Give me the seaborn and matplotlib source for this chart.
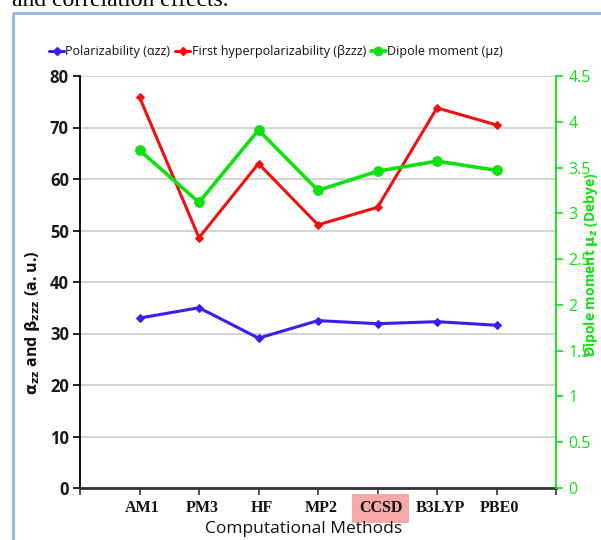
import matplotlib
matplotlib.use("Agg")
import matplotlib.pyplot as plt
from matplotlib.lines import Line2D
import seaborn as sns
import pandas as pd

methods = ["AM1", "PM3", "HF", "MP2", "CCSD", "B3LYP", "PBE0"]
polarizability = [33.0, 35.0, 29.1, 32.5, 31.9, 32.3, 31.6]
hyperpolarizability = [75.9, 48.6, 63.0, 51.1, 54.5, 73.8, 70.5]
dipole = [3.69, 3.12, 3.91, 3.25, 3.46, 3.57, 3.47]

left_ticks = [0, 10, 20, 30, 40, 50, 60, 70, 80]
right_ticks = [0, 0.5, 1, 1.5, 2, 2.5, 3, 3.5, 4, 4.5]
right_tick_labels = ["0", "0.5", "1", "1.5", "2", "2.5", "3", "3.5", "4", "4.5"]

df = pd.DataFrame({"pos": list(range(1, len(methods) + 1)), "method": methods,
                   "alpha": polarizability, "beta": hyperpolarizability, "mu": dipole})

sns.set_theme(style="white")
plt.rcParams['font.family'] = ['Open Sans', 'DejaVu Sans']

BLUE = "#3a1ef0"
RED = "#f01010"
GREEN = "#10e010"

fig = plt.figure(figsize=(6.01, 5.40), dpi=100)
ax = fig.add_axes([80 / 601, 1 - 488 / 540, (556 - 80) / 601, (488 - 76) / 540])
ax2 = ax.twinx()

sns.lineplot(data=df, x="pos", y="alpha", ax=ax, color=BLUE, marker="D", markersize=4,
             markeredgecolor=BLUE, linewidth=2.2)
sns.lineplot(data=df, x="pos", y="beta", ax=ax, color=RED, marker="D", markersize=4,
             markeredgecolor=RED, linewidth=2.2)
sns.lineplot(data=df, x="pos", y="mu", ax=ax2, color=GREEN, marker="o", markersize=7,
             markeredgecolor=GREEN, linewidth=2.6)

ax.set_xlim(0, len(methods) + 1)
ax.set_ylim(0, 80)
ax2.set_ylim(0, 4.5)
ax.set_xticks(range(0, len(methods) + 2))
ax.set_xticklabels([""] * (len(methods) + 2))
ax.set_yticks(left_ticks)
ax.set_yticklabels([str(t) for t in left_ticks], fontsize=12, fontweight="bold",
                   color="#1a1a1a")
ax2.set_yticks(right_ticks)
ax2.set_yticklabels(right_tick_labels, fontsize=11.5, color=GREEN)

ax.yaxis.grid(True, color="#cccccc", linewidth=1.2)
ax.set_axisbelow(True)
for s in ["top", "right"]:
    ax.spines[s].set_visible(False)
for s in ["top", "left", "bottom"]:
    ax2.spines[s].set_visible(False)
ax.spines["left"].set_color("black")
ax.spines["left"].set_linewidth(1.3)
ax.spines["bottom"].set_color("#333333")
ax.spines["bottom"].set_linewidth(2.0)
ax2.spines["right"].set_color(GREEN)
ax2.spines["right"].set_linewidth(1.3)

ax.tick_params(axis="y", which="both", left=True, direction="out", length=5, width=1.2,
               color="black", pad=3)
ax.tick_params(axis="x", bottom=True, direction="out", length=5, width=1.2, color="#333333")
ax2.tick_params(axis="y", right=True, direction="out", length=5, width=1.2, color=GREEN, pad=4)

ax.set_xlabel("")
ax.set_ylabel("")
ax2.set_ylabel("")
fig.text(33 / 601, 1 - 323 / 540, r"$\mathbf{\alpha_{zz}}$ and $\mathbf{\beta_{zzz}}$ (a. u.)",
         fontsize=11.5, fontweight="bold", rotation=90, ha="center", va="center",
         color="#111111")
fig.text(591 / 601, 1 - 265 / 540, r"Dipole moment $\mathbf{\mu_{z}}$ (Debye)",
         fontsize=10, fontweight="bold", color=GREEN, rotation=90, ha="center",
         va="center")

# category labels (Times-like bold)
for i, m in enumerate(methods):
    kw = {}
    if m == "CCSD":
        kw["bbox"] = dict(boxstyle="square,pad=0.4", facecolor="#f7a9a8", edgecolor="none")
    ax.text(i + 1.05, -2.4, m, ha="center", va="top", fontsize=11.5, fontweight="bold",
            family="Liberation Serif", color="#111111", **kw)
fig.text(0.505, 1 - 529 / 540, "Computational Methods", ha="center", va="center",
         fontsize=12.5, color="#111111")

handles = [Line2D([], [], color=BLUE, marker="D", markersize=4, linewidth=2.2),
           Line2D([], [], color=RED, marker="D", markersize=4, linewidth=2.2),
           Line2D([], [], color=GREEN, marker="o", markersize=6, linewidth=2.6)]
labels = ["Polarizability (αzz)", "First hyperpolarizability (βzzz)", "Dipole moment (μz)"]
leg = fig.legend(handles, labels, loc="center", bbox_to_anchor=(276 / 601, 1 - 52 / 540),
                 ncol=3, frameon=False, fontsize=9, handlelength=1.2, handletextpad=0.1,
                 columnspacing=0.4)
for t in leg.get_texts():
    t.set_fontweight("medium")
    t.set_color("#111111")

# surrounding frame and cut-off caption text from the page
fig.add_artist(Line2D([13 / 601, 13 / 601], [0, 1 - 15 / 540], color="#8fb4ea", linewidth=2,
                      transform=fig.transFigure))
fig.add_artist(Line2D([13 / 601, 1], [1 - 13 / 540, 1 - 13 / 540], color="#8fb4ea",
                      linewidth=2, transform=fig.transFigure))
fig.text(12 / 601, 1 - 1 / 540, "and correlation effects.", family="Liberation Serif",
         fontsize=17, va="center", ha="left", color="black")

fig.savefig("out.png", dpi=100)
